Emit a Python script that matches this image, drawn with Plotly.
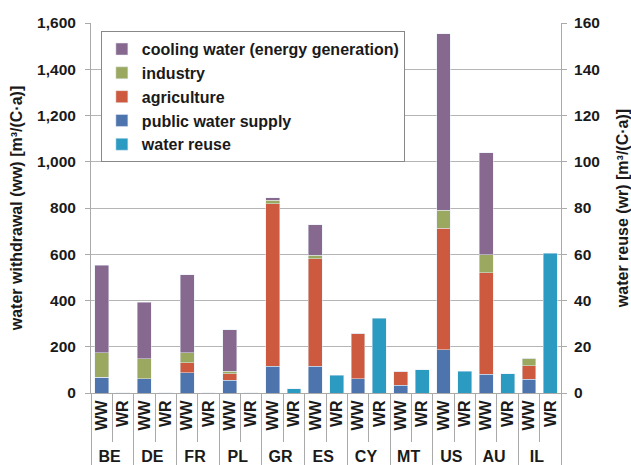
import plotly.graph_objects as go

countries = ["BE", "DE", "FR", "PL", "GR", "ES", "CY", "MT", "US", "AU", "IL"]
public_supply = [69, 62, 87, 55, 115, 115, 62, 33, 188, 81, 59]
agriculture = [0, 0, 43, 29, 704, 466, 197, 61, 525, 438, 58]
industry = [104, 87, 45, 11, 14, 14, 0, 0, 77, 79, 34]
cooling = [379, 244, 337, 179, 12, 133, 0, 0, 764, 441, 0]
water_reuse = [0.2, 0.2, 0.2, 0.2, 1.8, 7.7, 32.4, 10.1, 9.4, 8.4, 60.5]

ww_x = [countries, ["WW"] * len(countries)]
wr_x = [countries, ["WR"] * len(countries)]

FONT = "Liberation Sans, Arial, sans-serif"
TXT = "#1a1a1a"

fig = go.Figure()
series = [
    ("public water supply", public_supply, "#4e74ad", 4),
    ("agriculture", agriculture, "#cd5a3e", 3),
    ("industry", industry, "#9aa860", 2),
    ("cooling water (energy generation)", cooling, "#87698f", 1),
]
for name, vals, col, rank in series:
    fig.add_trace(go.Bar(x=ww_x, y=vals, name=name, marker_color=col,
                         legendrank=rank, legendgroup=name))
fig.add_trace(go.Bar(x=wr_x, y=water_reuse, name="water reuse", marker_color="#2b9bc1",
                     legendrank=5, legendgroup="reuse", yaxis="y2"))

fig.update_layout(
    width=631, height=465,
    margin=dict(l=91, r=70, t=23, b=72),
    barmode="stack", bargap=0.35,
    plot_bgcolor="white", paper_bgcolor="white",
    font=dict(family=FONT, size=15, color=TXT),
    legend=dict(x=0.021, y=0.978, xanchor="left", yanchor="top",
                bordercolor="#888888", borderwidth=1, bgcolor="white",
                font=dict(family=FONT, size=16, color=TXT, weight="bold"),
                itemwidth=30, tracegroupgap=0),
    xaxis=dict(type="multicategory", tickangle=-90, showline=True, linecolor="#aaaaaa",
               ticks="outside", tickson="boundaries", ticklen=48, tickcolor="#aaaaaa",
               showdividers=True, dividercolor="#aaaaaa", dividerwidth=1, automargin=False,
               tickfont=dict(family=FONT, size=16, color=TXT, weight="bold")),
    yaxis=dict(range=[0, 1600], dtick=200, tickformat=",", showgrid=True, gridcolor="#b5b5b5",
               showline=True, linecolor="#aaaaaa", ticks="outside", ticklen=5, tickcolor="#aaaaaa",
               automargin=False, ticklabelstandoff=6,
               tickfont=dict(family=FONT, size=15.5, color=TXT, weight="bold"),
               title=dict(text="water withdrawal (ww) [m³/(C·a)]", standoff=10,
                          font=dict(family=FONT, size=16, color=TXT, weight="bold"))),
    yaxis2=dict(range=[0, 160], dtick=20, overlaying="y", side="right", showgrid=False,
                showline=True, linecolor="#aaaaaa", ticks="outside", ticklen=5, tickcolor="#aaaaaa",
                automargin=False, ticklabelstandoff=4,
                tickfont=dict(family=FONT, size=15.5, color=TXT, weight="bold"),
                title=dict(text="water reuse (wr) [m³/(C·a)]", standoff=18,
                           font=dict(family=FONT, size=16, color=TXT, weight="bold"))),
)

fig.write_html("out.html")
